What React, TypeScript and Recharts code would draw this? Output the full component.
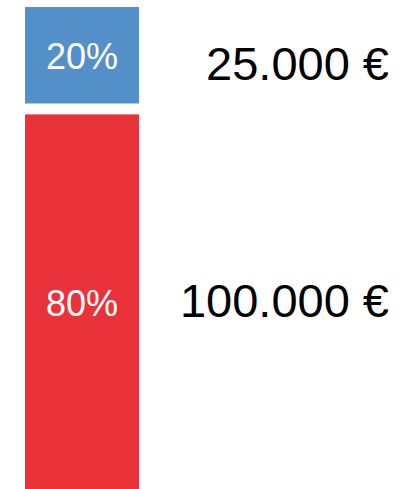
import { Bar, BarChart, LabelList, XAxis, YAxis } from 'recharts'

const categories = ['Gesamt']
const redValues = [100000]
const blueValues = [25000]

const RED = '#e9323a'
const BLUE = '#5390c9'
const GAP = 11

const data = categories.map((name, i) => ({ name, red: redValues[i], blue: blueValues[i] }))
const total = redValues[0] + blueValues[0]

const fmtEuro = (v: number) => v.toString().replace(/\B(?=(\d{3})+(?!\d))/g, '.') + ' €'
const fmtPct = (v: number) => `${Math.round((v / total) * 100)}%`

// red segment is cut at its top to leave a white gap under the blue one
const RedShape = (props: any) => {
  const { x, y, width, height, fill } = props
  return <rect x={x} y={y + GAP} width={width} height={Math.max(height - GAP, 0)} fill={fill} />
}

const makeLabel = (cut: number, pctShift: number, amountShift: number) => (props: any) => {
  const { x, y, width, height, value } = props
  const cy = y + cut + (height - cut) / 2
  return (
    <g>
      <text x={x + width / 2} y={cy + pctShift + 13} textAnchor="middle" fill="#fff" fontSize={36} fontFamily="Liberation Sans, Arial, sans-serif">
        {fmtPct(value)}
      </text>
      <text x={389} y={cy + amountShift + 17} textAnchor="end" fill="#000" fontSize={47} fontFamily="Liberation Sans, Arial, sans-serif">
        {fmtEuro(value)}
      </text>
    </g>
  )
}

export default function App() {
  return (
    <div style={{ position: 'absolute', left: 0, top: 0, width: 413, height: 489, background: '#fff' }}>
      <BarChart width={413} height={489} data={data} margin={{ top: 7, right: 274, bottom: 0, left: 24 }} barCategoryGap={0}>
        <XAxis dataKey="name" hide />
        <YAxis type="number" domain={[0, total]} hide />
        <Bar dataKey="red" stackId="a" fill={RED} barSize={114} shape={RedShape} isAnimationActive={false}>
          <LabelList dataKey="red" content={makeLabel(GAP, 1.3, -1.5)} />
        </Bar>
        <Bar dataKey="blue" stackId="a" fill={BLUE} barSize={114} isAnimationActive={false}>
          <LabelList dataKey="blue" content={makeLabel(0, 1, 8)} />
        </Bar>
      </BarChart>
    </div>
  )
}
